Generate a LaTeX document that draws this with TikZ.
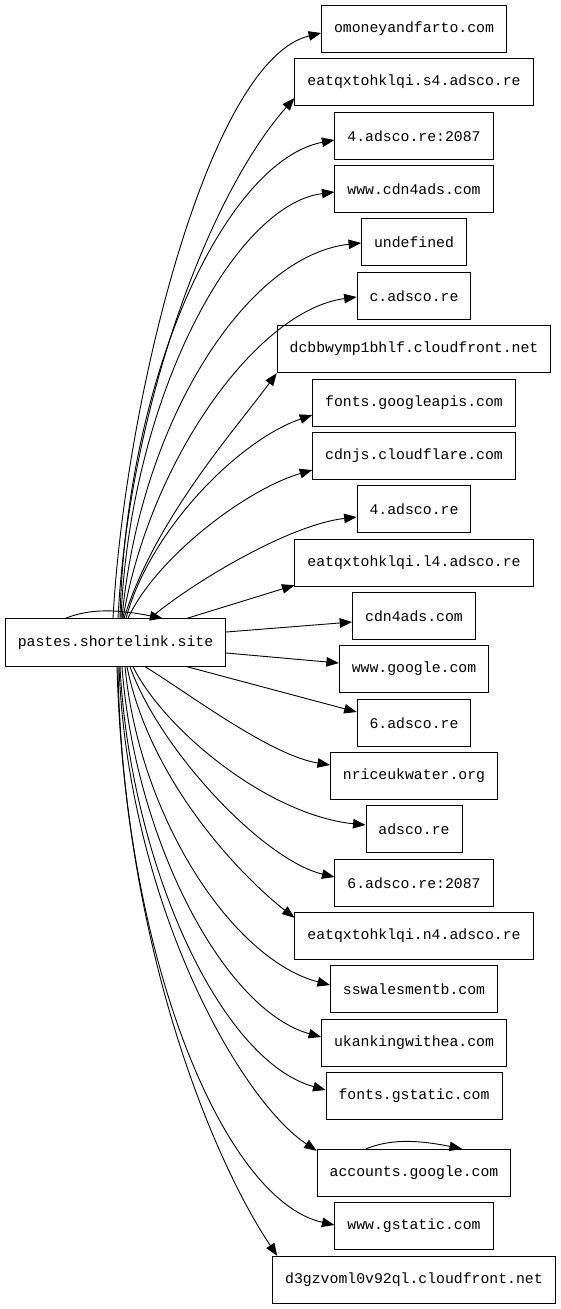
\documentclass[tikz,border=0pt]{standalone}
\usepackage{fontspec}
\setmonofont{Liberation Mono}
\usetikzlibrary{positioning,arrows.meta}
\tikzset{
  linkarrow/.style={-{Triangle[length=12.5pt,width=9.5pt]}, line width=0.9pt},
  hostnode/.style={draw, line width=0.9pt, fill=white, minimum height=47.5pt, inner xsep=12.5pt, font=\fontsize{14.8}{17}\selectfont\ttfamily}
}

\begin{document}
\begin{tikzpicture}[x=1pt, y=-1pt]
  \useasboundingbox[fill=white] (0,0) rectangle (561,1309);
  % source host
  \node[hostnode] (site) at (115.5,642.5) {pastes.shortelink.site};
  % contacted hosts
  \node[hostnode] (h1) at (414,29) {omoneyandfarto.com};
  \node[hostnode] (h2) at (414,82) {eatqxtohklqi.s4.adsco.re};
  \node[hostnode] (h3) at (414,136) {4.adsco.re:2087};
  \node[hostnode] (h4) at (414,189) {www.cdn4ads.com};
  \node[hostnode] (h5) at (414,242) {undefined};
  \node[hostnode] (h6) at (414,296) {c.adsco.re};
  \node[hostnode] (h7) at (414,349) {dcbbwymp1bhlf.cloudfront.net};
  \node[hostnode] (h8) at (414,403) {fonts.googleapis.com};
  \node[hostnode] (h9) at (414,456) {cdnjs.cloudflare.com};
  \node[hostnode] (h10) at (414,509) {4.adsco.re};
  \node[hostnode] (h11) at (414,563) {eatqxtohklqi.l4.adsco.re};
  \node[hostnode] (h12) at (414,616) {cdn4ads.com};
  \node[hostnode] (h13) at (414,669) {www.google.com};
  \node[hostnode] (h14) at (414,723) {6.adsco.re};
  \node[hostnode] (h15) at (414,776) {nriceukwater.org};
  \node[hostnode] (h16) at (414,829) {adsco.re};
  \node[hostnode] (h17) at (414,883) {6.adsco.re:2087};
  \node[hostnode] (h18) at (414,936) {eatqxtohklqi.n4.adsco.re};
  \node[hostnode] (h19) at (414,989) {sswalesmentb.com};
  \node[hostnode] (h20) at (414,1043) {ukankingwithea.com};
  \node[hostnode] (h21) at (414,1096) {fonts.gstatic.com};
  \node[hostnode] (h22) at (414,1173) {accounts.google.com};
  \node[hostnode] (h23) at (414,1226) {www.gstatic.com};
  \node[hostnode] (h24) at (414,1280) {d3gzvoml0v92ql.cloudfront.net};
  % upper links
  \draw[linkarrow] ([xshift=-2.5pt]site.north) .. controls +(12,-219) and +(-112,27) .. ([yshift=-4pt]h1.west);
  \draw[linkarrow] ([xshift=2.5pt]site.north) .. controls +(10,-199) and +(-90,102) .. ([yshift=-16pt]h2.west);
  \draw[linkarrow] ([xshift=4.5pt]site.north) .. controls +(6,-249) and +(-106,20) .. ([yshift=-4pt]h3.west);
  \draw[linkarrow] ([xshift=5.5pt]site.north) .. controls +(9,-219) and +(-101,13) .. ([yshift=-3pt]h4.west);
  \draw[linkarrow] ([xshift=6.5pt]site.north) .. controls +(18,-199) and +(-113,12) .. ([yshift=-1pt]h5.west);
  \draw[linkarrow] ([xshift=7.5pt]site.north) .. controls +(27,-159) and +(-99,13) .. ([yshift=-1pt]h6.west);
  \draw[linkarrow] ([xshift=8.5pt]site.north) .. controls +(31,-99) and +(-42,57) .. (h7.south west);
  \draw[linkarrow] ([xshift=10.5pt]site.north) .. controls +(24,-89) and +(-73,25) .. ([yshift=-12pt]h8.west);
  \draw[linkarrow] ([xshift=12.5pt]site.north) .. controls +(27,-59) and +(-68,20) .. ([yshift=-14pt]h9.west);
  \draw[linkarrow] ([xshift=34.5pt]site.north) .. controls +(40,-34) and +(-69,8) .. ([yshift=-8pt]h10.west);
  % near links
  \draw[linkarrow] ([xshift=71.5pt]site.north) -- ([yshift=2pt]h11.south west);
  \draw[linkarrow] ([yshift=10.5pt]site.east) -- ([yshift=-6pt]h12.west);
  \draw[linkarrow] ([yshift=-10.5pt]site.east) -- ([yshift=6pt]h13.west);
  \draw[linkarrow] ([xshift=71.5pt]site.south) -- ([yshift=11pt]h14.west);
  % lower links
  \draw[linkarrow] ([xshift=29.5pt]site.south) .. controls +(40,24) and +(-61,-10) .. ([yshift=11pt]h15.west);
  \draw[linkarrow] ([xshift=17.5pt]site.south) .. controls +(32,64) and +(-97,-10) .. ([yshift=4pt]h16.west);
  \draw[linkarrow] ([xshift=14.5pt]site.south) .. controls +(30,84) and +(-71,-17) .. ([yshift=6pt]h17.west);
  \draw[linkarrow] ([xshift=11.5pt]site.south) .. controls +(23,114) and +(-55,-43) .. ([yshift=-6pt]h18.north west);
  \draw[linkarrow] ([xshift=9.5pt]site.south) .. controls +(15,154) and +(-96,-25) .. ([yshift=4pt]h19.west);
  \draw[linkarrow] ([xshift=6.5pt]site.south) .. controls +(13,174) and +(-97,-27) .. ([yshift=6pt]h20.west);
  \draw[linkarrow] ([xshift=4.5pt]site.south) .. controls +(10,194) and +(-107,-30) .. ([yshift=6pt]h21.west);
  \draw[linkarrow] ([xshift=3.5pt]site.south) .. controls +(9,234) and +(-78,-52) .. ([yshift=-2pt]h22.north west);
  \draw[linkarrow] ([xshift=2.5pt]site.south) .. controls +(4,284) and +(-112,-25) .. ([yshift=1pt]h23.west);
  \draw[linkarrow] ([xshift=1.5pt]site.south) .. controls +(8,294) and +(-58,-86) .. ([xshift=5pt]h24.north west);
  % self links
  \draw[linkarrow] ([xshift=-50pt]site.north) .. controls +(25,-10) and +(-45,-9) .. ([xshift=47pt]site.north);
  \draw[linkarrow] ([xshift=-48pt]h22.north) .. controls +(25,-10) and +(-45,-9) .. ([xshift=48pt]h22.north);
\end{tikzpicture}
\end{document}
